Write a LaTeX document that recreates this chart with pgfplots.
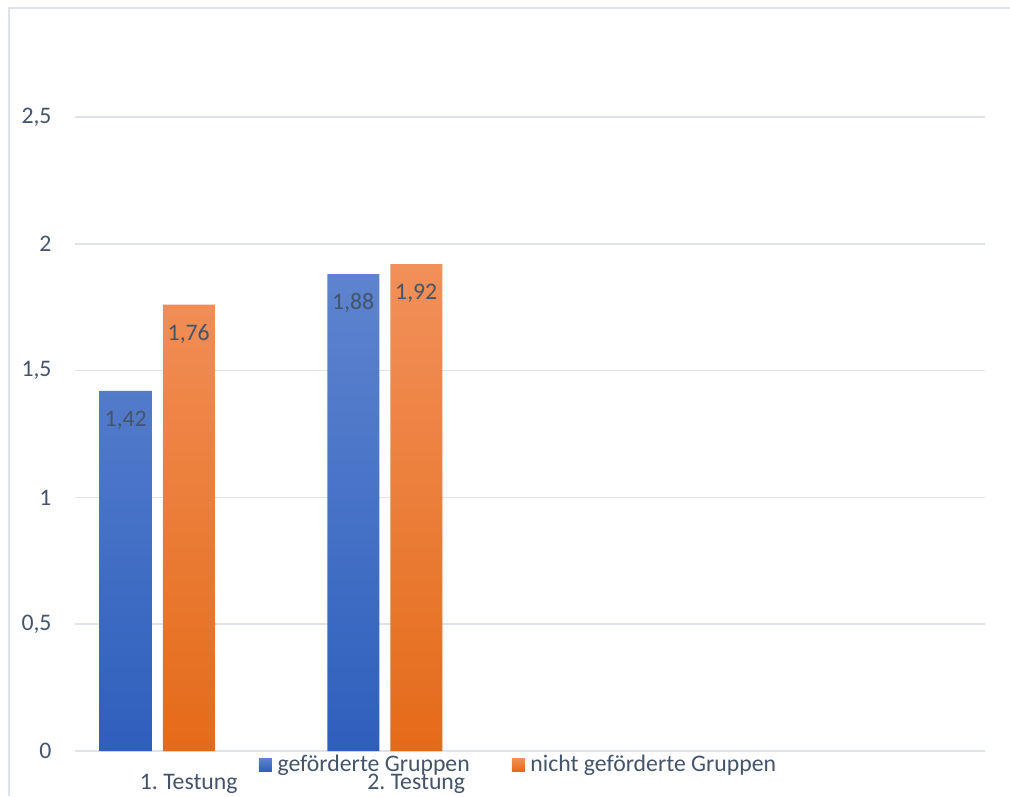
\documentclass[border=0pt]{standalone}
\usepackage{fontspec}
\setmainfont{Carlito}
\usepackage{pgfplots}
\pgfplotsset{compat=1.18}

\definecolor{txt}{RGB}{68,84,106}
\definecolor{gridc}{RGB}{222,226,233}
\definecolor{blueTop}{RGB}{94,132,207}
\definecolor{blueBot}{RGB}{46,95,189}
\definecolor{orTop}{RGB}{242,144,90}
\definecolor{orBot}{RGB}{228,107,24}

\begin{document}
\fontsize{17.8}{21}\selectfont
\begin{tikzpicture}
  \useasboundingbox (0,0) rectangle (757.5pt,597pt);
  % chart frame
  \draw[gridc, line width=1pt] (6.75pt,0) -- (6.75pt,591pt) -- (757.5pt,591pt);
  \begin{axis}[
    at={(56.25pt,33.75pt)}, anchor=south west,
    scale only axis, width=682.5pt, height=475.5pt,
    xmin=-0.5, xmax=3.5, ymin=0, ymax=2.5,
    xtick={0,1}, xticklabels={1.\ Testung, 2.\ Testung},
    ytick={0,0.5,1,1.5,2,2.5},
    /pgf/number format/assume math mode=true,
    /pgf/number format/use comma,
    major tick length=0pt,
    axis line style={draw=none},
    ymajorgrids, grid style={gridc, line width=1.1pt},
    ticklabel style={font=\fontsize{17.8}{21}\selectfont, text=txt},
    yticklabel style={anchor=east, xshift=-11.5pt},
    xticklabel style={anchor=center, yshift=-24.5pt},
    nodes near coords={\pgfmathprintnumber[fixed,precision=2,use comma]{\pgfplotspointmeta}},
    every node near coord/.append style={anchor=center, yshift=-21.75pt,
      text=txt, font=\fontsize{17.8}{21}\selectfont},
    legend columns=2,
    legend style={draw=none, fill=none, at={(0.4874,-0.0215)}, anchor=center,
      font=\fontsize{17.8}{21}\selectfont, text=txt,
      /tikz/every even column/.append style={column sep=30pt},
      nodes={inner sep=1.5pt}},
  ]
    \addplot[ybar, bar width=39pt, bar shift=-47.25pt, draw=none,
      top color=blueTop, bottom color=blueBot,
      every node near coord/.append style={xshift=-47.25pt},
      legend image code/.code={\shade[top color=blueTop, bottom color=blueBot]
        (0pt,-4.9pt) rectangle (9.75pt,4.9pt); \path (0pt,0pt) -- (12.5pt,0pt);}]
      coordinates {(0,1.42) (1,1.88)};
    \addlegendentry{geförderte Gruppen}
    \addplot[ybar, bar width=39pt, bar shift=0pt, draw=none,
      top color=orTop, bottom color=orBot,
      legend image code/.code={\shade[top color=orTop, bottom color=orBot]
        (0pt,-4.9pt) rectangle (9.75pt,4.9pt); \path (0pt,0pt) -- (12.5pt,0pt);}]
      coordinates {(0,1.76) (1,1.92)};
    \addlegendentry{nicht geförderte Gruppen}
  \end{axis}
\end{tikzpicture}
\end{document}
